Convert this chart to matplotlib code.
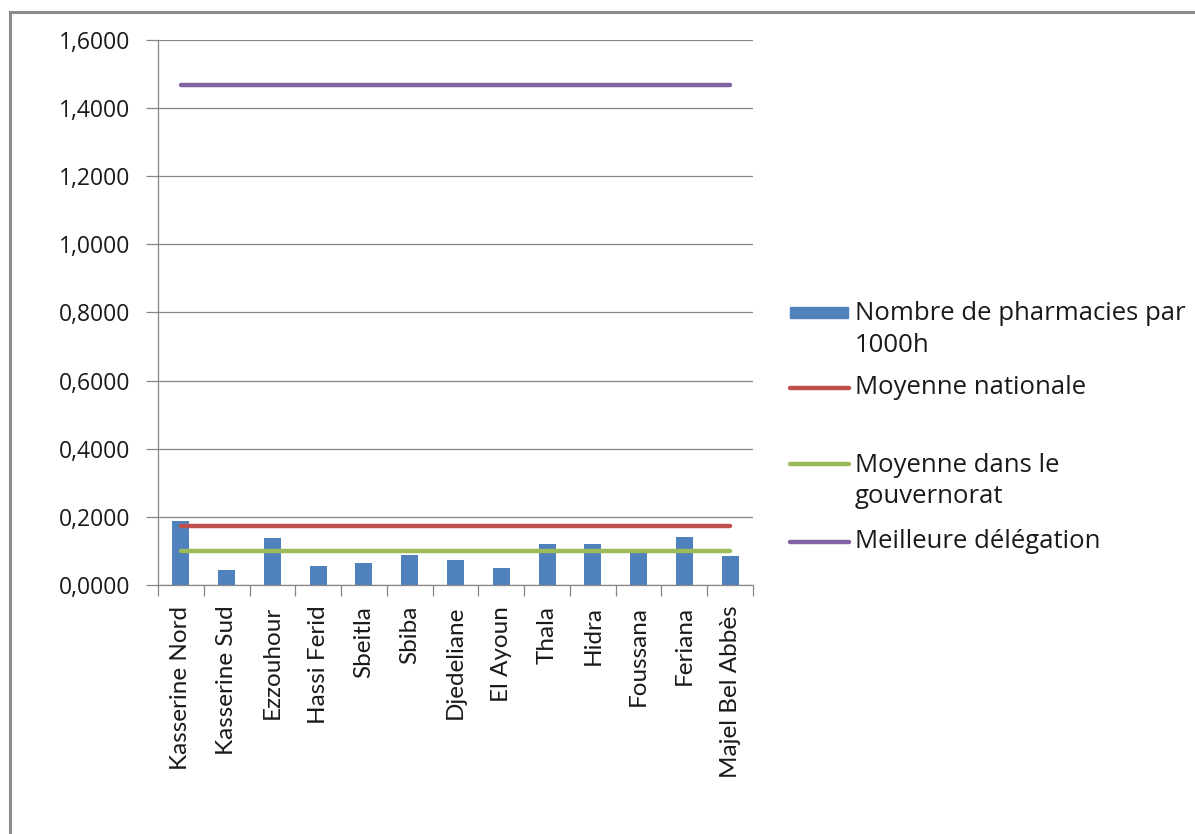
import numpy as np
import matplotlib
matplotlib.use("Agg")
import matplotlib.pyplot as plt
from matplotlib.lines import Line2D
from matplotlib.patches import Rectangle
from matplotlib.ticker import FuncFormatter

# Data
delegations = ['Kasserine Nord', 'Kasserine Sud', 'Ezzouhour', 'Hassi Ferid',
               'Sbeitla', 'Sbiba', 'Djedeliane', 'El Ayoun', 'Thala', 'Hidra',
               'Foussana', 'Feriana', 'Majel Bel Abbès']
pharmacies_1000h = [0.189, 0.043, 0.138, 0.055, 0.066, 0.089, 0.074, 0.051,
                    0.119, 0.119, 0.099, 0.141, 0.085]
moyenne_nationale = [0.172] * len(delegations)
moyenne_gouvernorat = [0.100] * len(delegations)
meilleure_delegation = [1.468] * len(delegations)

blue = '#4F81BD'
red = '#C0504D'
green = '#9BBB59'
purple = '#8064A2'
txt = '#1a1a1a'

plt.rcParams['font.family'] = ['Open Sans', 'DejaVu Sans']

W, H = 1195, 834
fig = plt.figure(figsize=(W / 100, H / 100), dpi=100)
ax = fig.add_axes([158 / W, 1 - 585 / H, (753 - 158) / W, (585 - 40) / H])

x = np.arange(len(delegations))
ax.bar(x, pharmacies_1000h, width=0.37, color=blue, zorder=2)
ax.plot(x, moyenne_nationale, color=red, lw=3.2, solid_capstyle='round', zorder=3)
ax.plot(x, moyenne_gouvernorat, color=green, lw=3.2, solid_capstyle='round', zorder=3)
ax.plot(x, meilleure_delegation, color=purple, lw=3.2, solid_capstyle='round', zorder=3)

ax.set_xlim(-0.5, len(delegations) - 0.5)
ax.set_ylim(0, 1.6)
ax.set_yticks(np.arange(0, 1.61, 0.2))
ax.yaxis.set_major_formatter(FuncFormatter(lambda v, p: f'{v:.4f}'.replace('.', ',')))
ax.grid(axis='y', color='#868686', lw=0.9, zorder=0)
ax.set_axisbelow(True)

for s in ['top', 'right']:
    ax.spines[s].set_visible(False)
for s in ['left', 'bottom']:
    ax.spines[s].set_color('#868686')
    ax.spines[s].set_linewidth(0.9)

ax.set_xticks(x)
ax.set_xticklabels(delegations, rotation=90, va='top', ha='center',
                   family=['Lato', 'DejaVu Sans'])
ax.tick_params(axis='x', length=0, pad=15, labelsize=17.5, colors=txt)
ax.set_xticks(np.arange(-0.5, len(delegations)), minor=True)
ax.tick_params(axis='x', which='minor', length=8, color='#868686', width=0.9)
ax.tick_params(axis='y', length=9, color='#868686', width=0.9, pad=11,
               labelsize=16.5, labelcolor=txt)

# Legend drawn by hand to match spacing
def fx(px):
    return px / W

def fy(py):
    return 1 - py / H

fs = 18.5
fig.add_artist(Rectangle((fx(790), fy(318)), fx(58), 11 / H, color=blue,
                         transform=fig.transFigure))
fig.text(fx(855), fy(313), 'Nombre de pharmacies par', va='center', fontsize=fs, color=txt)
fig.text(fx(855), fy(345), '1000h', va='center', fontsize=fs, color=txt)
for yy, col in [(388, red), (464, green), (542, purple)]:
    fig.add_artist(Line2D([fx(790), fx(849)], [fy(yy), fy(yy)], color=col, lw=3.2,
                          solid_capstyle='round', transform=fig.transFigure))
fig.text(fx(855), fy(388), 'Moyenne nationale', va='center', fontsize=fs, color=txt)
fig.text(fx(855), fy(465), 'Moyenne dans le', va='center', fontsize=fs, color=txt)
fig.text(fx(855), fy(497), 'gouvernorat', va='center', fontsize=fs, color=txt)
fig.text(fx(855), fy(542), 'Meilleure délégation', va='center', fontsize=fs, color=txt)

# Outer chart border (left and top edges visible)
fig.add_artist(Line2D([fx(10), fx(10)], [fy(12), 0], color='#8c8c8c', lw=2.2,
                      transform=fig.transFigure))
fig.add_artist(Line2D([fx(10), 1], [fy(12), fy(12)], color='#8c8c8c', lw=2.2,
                      transform=fig.transFigure))

fig.savefig('out.png', dpi=100, facecolor='white')
